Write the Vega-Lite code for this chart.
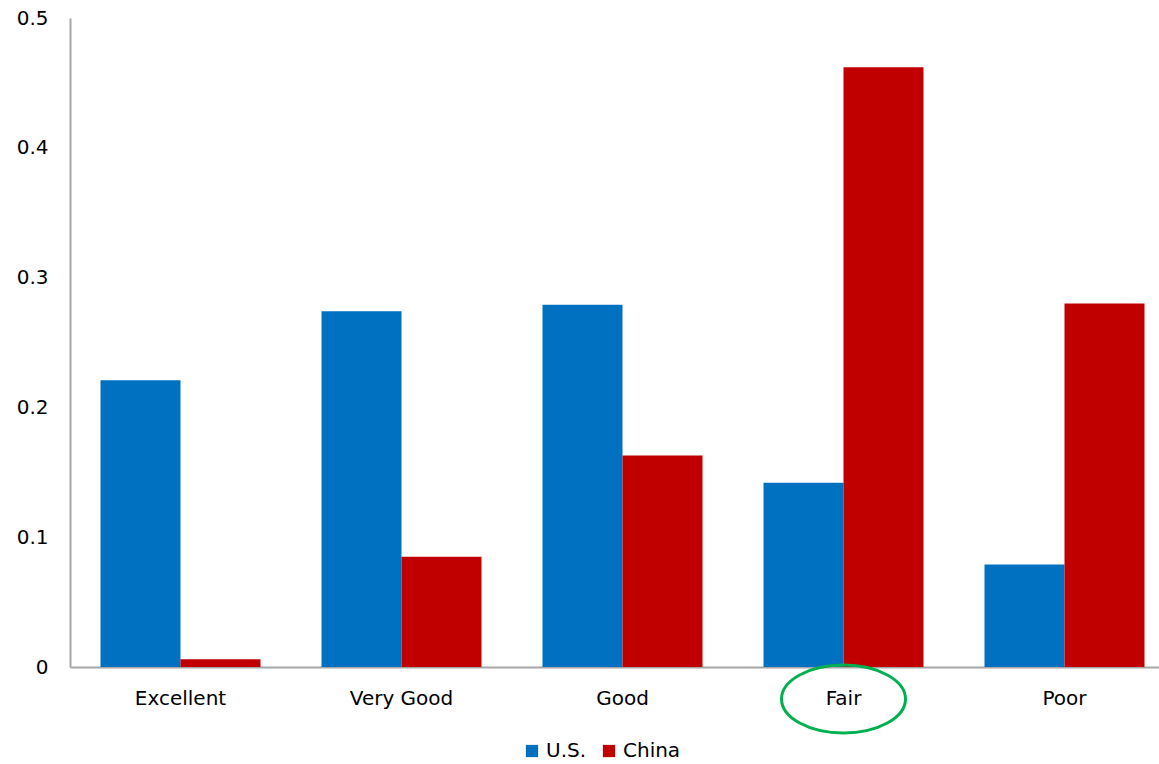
{
  "$schema": "https://vega.github.io/schema/vega-lite/v6.json",
  "width": 1089,
  "height": 649,
  "autosize": {"type": "none"},
  "padding": {"left": 70, "top": 18, "right": 0, "bottom": 97},
  "background": "white",
  "config": {
    "view": {"stroke": null},
    "font": "DejaVu Sans",
    "axis": {"labelFont": "DejaVu Sans", "labelColor": "#000000", "grid": false, "ticks": false, "domainColor": "#A6A6A6", "domainWidth": 2},
    "legend": {"labelFont": "DejaVu Sans"}
  },
  "datasets": {
    "bars": [
      {"rating": "Excellent", "country": "U.S.", "share": 0.221},
      {"rating": "Excellent", "country": "China", "share": 0.006},
      {"rating": "Very Good", "country": "U.S.", "share": 0.274},
      {"rating": "Very Good", "country": "China", "share": 0.085},
      {"rating": "Good", "country": "U.S.", "share": 0.279},
      {"rating": "Good", "country": "China", "share": 0.163},
      {"rating": "Fair", "country": "U.S.", "share": 0.142},
      {"rating": "Fair", "country": "China", "share": 0.462},
      {"rating": "Poor", "country": "U.S.", "share": 0.079},
      {"rating": "Poor", "country": "China", "share": 0.28}
    ],
    "highlight": [
      {"rating": "Fair", "share": 0}
    ]
  },
  "layer": [
    {
      "data": {"name": "bars"},
      "mark": {"type": "bar"},
      "encoding": {
        "x": {
          "field": "rating",
          "type": "nominal",
          "sort": ["Excellent", "Very Good", "Good", "Fair", "Poor"],
          "scale": {"range": [0, 1105], "paddingInner": 0.276, "paddingOuter": 0.138},
          "axis": {"title": null, "labelAngle": 0, "labelFontSize": 20, "labelPadding": 21}
        },
        "xOffset": {"field": "country", "type": "nominal", "sort": ["U.S.", "China"], "scale": {"paddingInner": 0, "paddingOuter": 0}},
        "y": {
          "field": "share",
          "type": "quantitative",
          "scale": {"domain": [0, 0.5], "nice": false},
          "axis": {"title": null, "values": [0, 0.1, 0.2, 0.3, 0.4, 0.5], "format": ".1~f", "labelFontSize": 20, "labelPadding": 22, "labelAlign": "right"}
        },
        "color": {
          "field": "country",
          "type": "nominal",
          "sort": ["U.S.", "China"],
          "scale": {"domain": ["U.S.", "China"], "range": ["#0070C0", "#C00000"]},
          "legend": {
            "title": null,
            "orient": "none",
            "legendX": 452,
            "legendY": 723,
            "direction": "horizontal",
            "symbolType": "square",
            "symbolSize": 150,
            "symbolStrokeWidth": 0,
            "labelFontSize": 20,
            "labelColor": "#000000",
            "labelOffset": 4,
            "columnPadding": 12
          }
        }
      }
    },
    {
      "data": {"name": "highlight"},
      "mark": {
        "type": "point",
        "shape": "M -1 0.516 A 1 0.548 0 1 0 1 0.516 A 1 0.548 0 1 0 -1 0.516 Z",
        "size": 15376,
        "filled": false,
        "stroke": "#00B050",
        "strokeWidth": 3,
        "opacity": 1
      },
      "encoding": {
        "x": {"field": "rating", "type": "nominal", "sort": ["Excellent", "Very Good", "Good", "Fair", "Poor"]},
        "y": {"field": "share", "type": "quantitative"}
      }
    }
  ]
}
